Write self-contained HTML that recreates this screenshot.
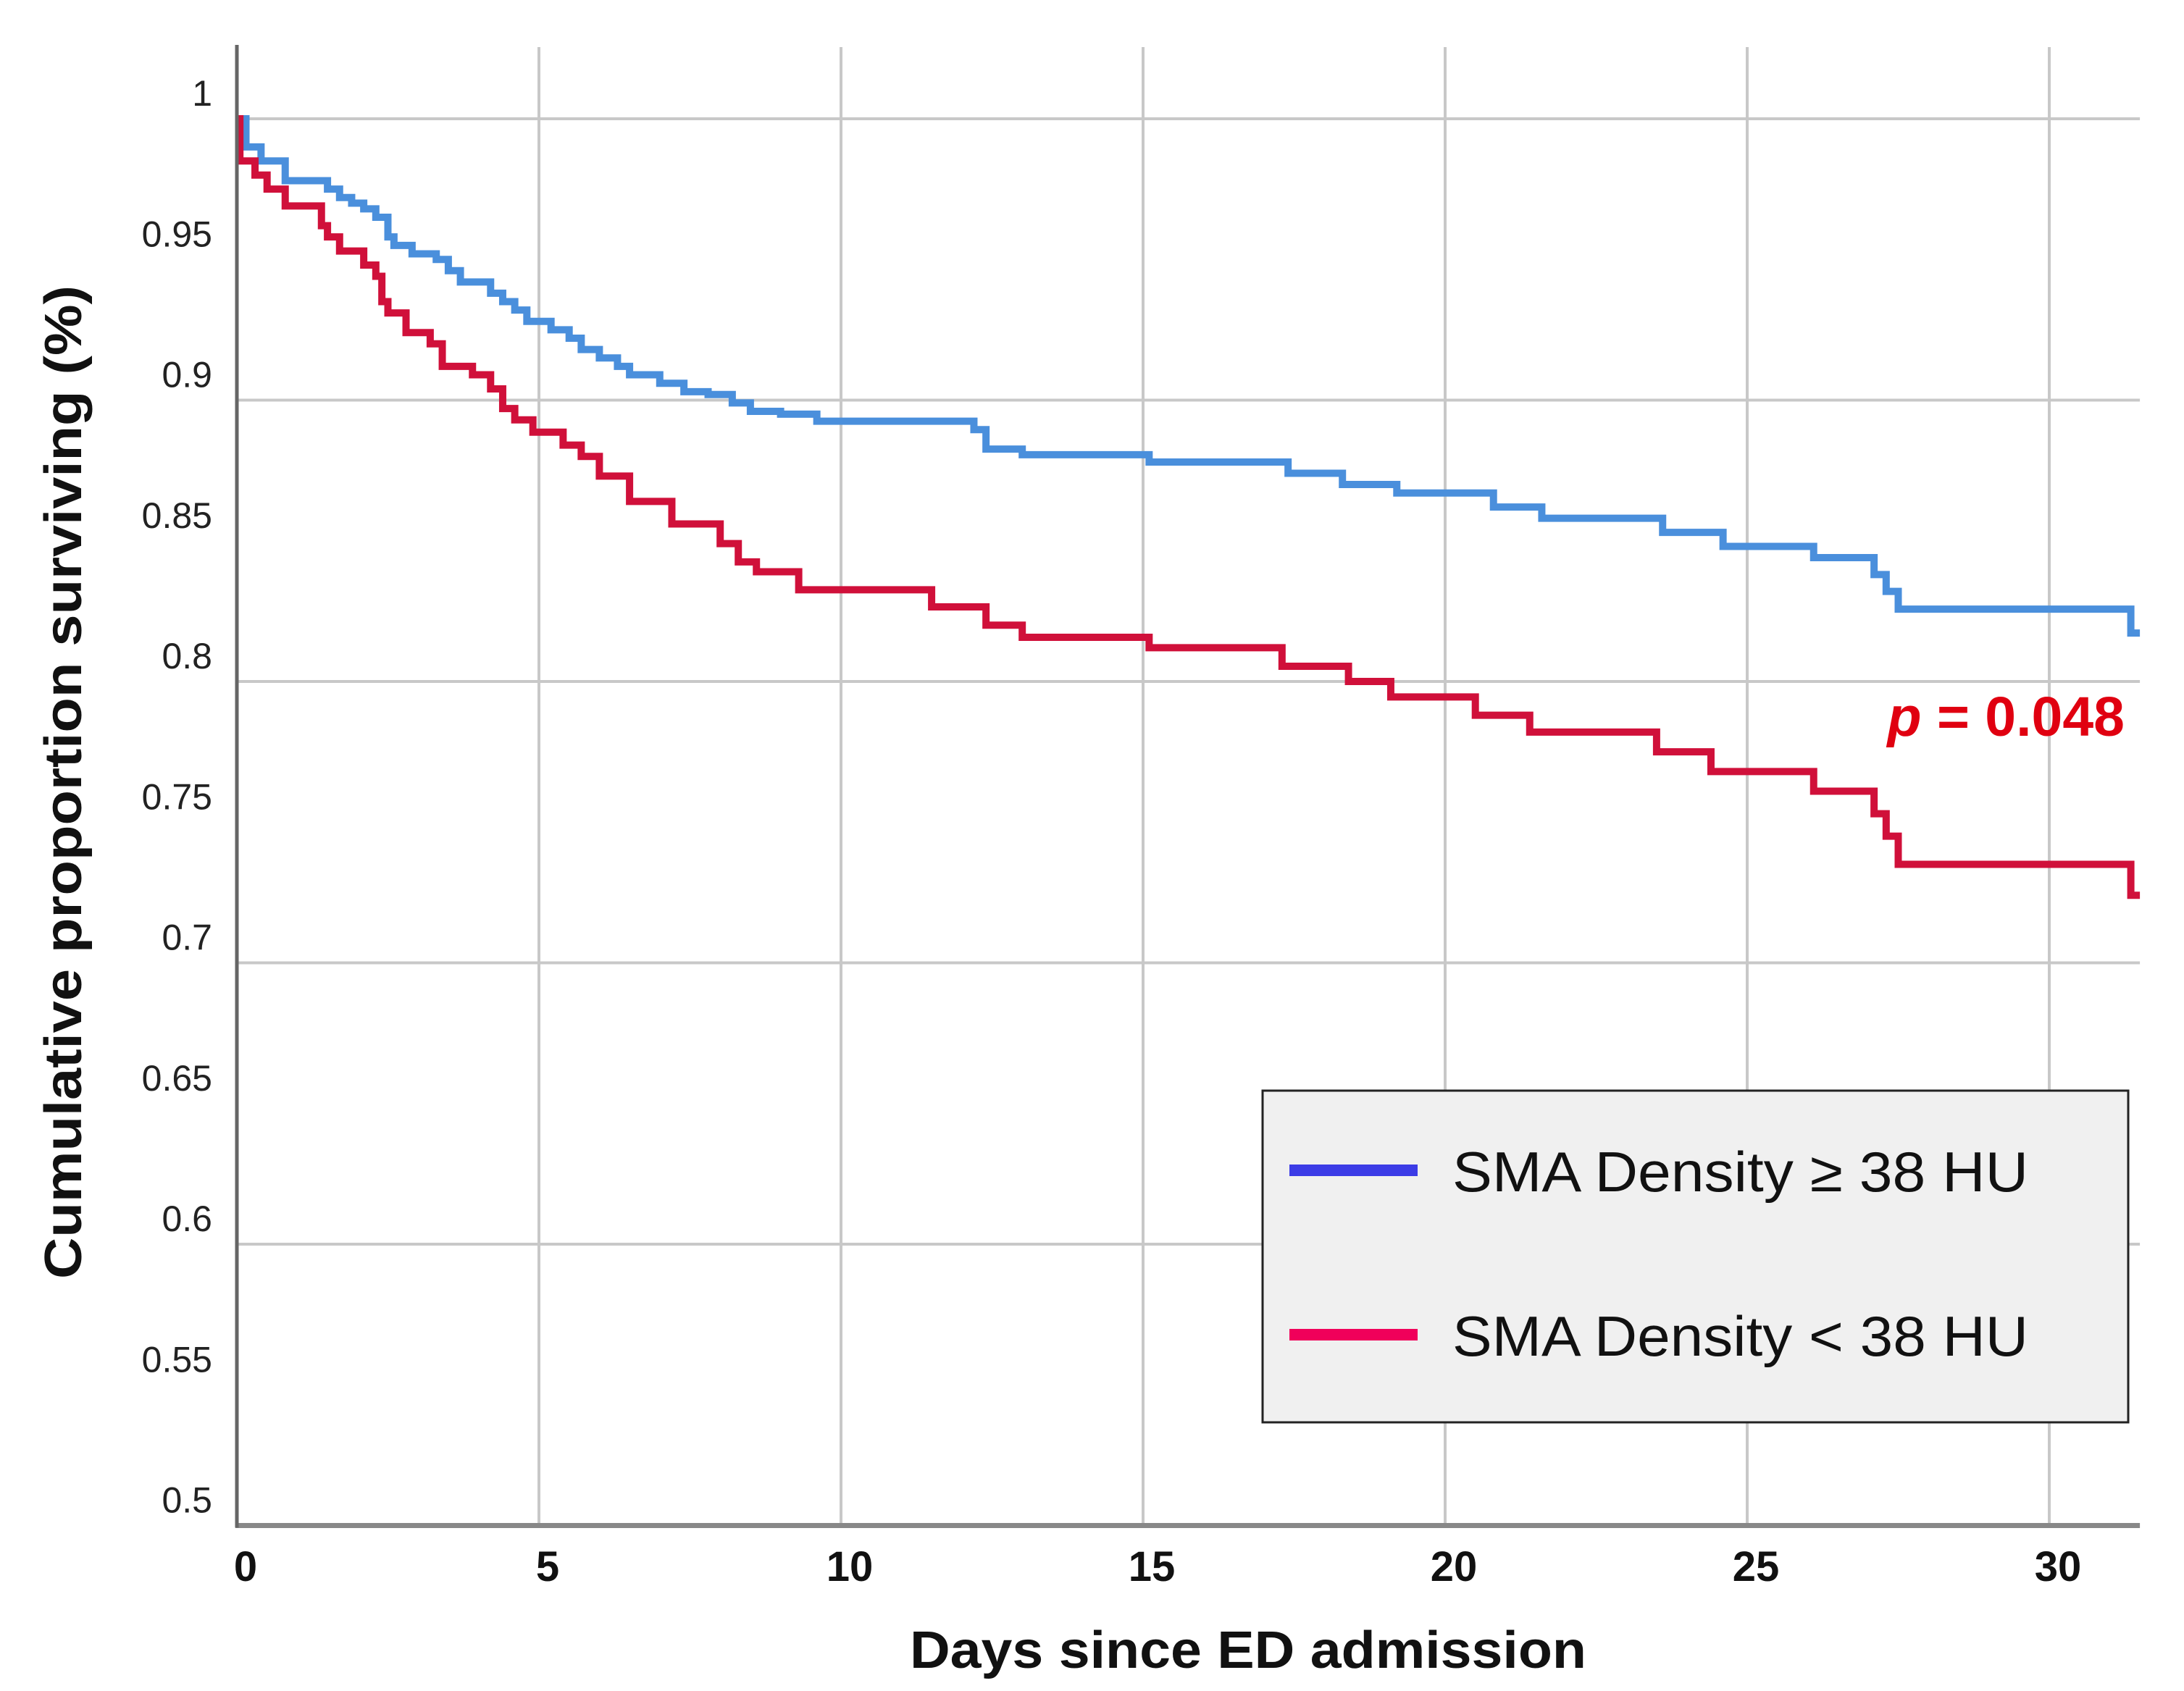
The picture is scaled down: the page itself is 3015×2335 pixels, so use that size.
<!DOCTYPE html>
<html><head><meta charset="utf-8"><style>
html,body{margin:0;padding:0;background:#fff;}
svg{display:block;}
text{font-family:"Liberation Sans",sans-serif;}
</style></head><body>
<svg id="chart" width="3015" height="2335" viewBox="0 0 3015 2335" xmlns="http://www.w3.org/2000/svg">
<g id="grid"></g>
<g id="series"></g>
<g id="axes"></g>
<text x="2933" y="1016" text-anchor="end" font-size="77" font-weight="bold" fill="#e00010"><tspan font-style="italic">p</tspan> = 0.048</text>
<g>
<rect x="1743" y="1506" width="1195" height="458" fill="#f0f0f0" stroke="#222" stroke-width="3"/>
<line x1="1780" y1="1616" x2="1957" y2="1616" stroke="#3c3ce6" stroke-width="16"/>
<text x="2005" y="1645" font-size="78" fill="#111" textLength="795" lengthAdjust="spacingAndGlyphs">SMA Density ≥ 38 HU</text>
<line x1="1780" y1="1843" x2="1957" y2="1843" stroke="#f0005a" stroke-width="16"/>
<text x="2005" y="1872" font-size="78" fill="#111" textLength="795" lengthAdjust="spacingAndGlyphs">SMA Density &lt; 38 HU</text>
</g>
<text x="1723" y="2303" text-anchor="middle" font-size="72" font-weight="bold" fill="#111" textLength="934" lengthAdjust="spacingAndGlyphs">Days since ED admission</text>
<text transform="translate(112,1080) rotate(-90)" text-anchor="middle" font-size="72" font-weight="bold" fill="#111" textLength="1372" lengthAdjust="spacingAndGlyphs">Cumulative proportion surviving (%)</text>
</svg>
<script>
const xTicks = [0,5,10,15,20,25,30];
const yTicks = [0.5,0.55,0.6,0.65,0.7,0.75,0.8,0.85,0.9,0.95,1];
const yTickLabels = ["0.5","0.55","0.6","0.65","0.7","0.75","0.8","0.85","0.9","0.95","1"];
const highTimes = [0,0.15,0.4,0.8,1.5,1.7,1.9,2.1,2.3,2.5,2.6,2.9,3.3,3.5,3.7,4.2,4.4,4.6,4.8,5.2,5.5,5.7,6.0,6.3,6.5,7.0,7.4,7.8,8.2,8.5,9.0,9.6,12.2,12.4,13.0,15.1,17.4,18.3,19.2,20.8,21.6,23.6,24.6,26.1,27.1,27.3,27.5,31.35];
const highSurv  = [1.0,0.99,0.985,0.978,0.975,0.972,0.970,0.968,0.965,0.958,0.955,0.952,0.950,0.946,0.942,0.938,0.935,0.932,0.928,0.925,0.922,0.918,0.915,0.912,0.909,0.906,0.903,0.902,0.899,0.896,0.895,0.8925,0.8895,0.8826,0.8806,0.878,0.874,0.870,0.867,0.862,0.858,0.853,0.848,0.844,0.838,0.832,0.8257,0.8172];
const lowTimes = [0,0.05,0.3,0.5,0.8,1.4,1.5,1.7,2.1,2.3,2.4,2.5,2.8,3.2,3.4,3.9,4.2,4.4,4.6,4.9,5.4,5.7,6.0,6.5,7.2,8.0,8.3,8.6,9.3,11.5,12.4,13.0,15.1,17.3,18.4,19.1,20.5,21.4,23.5,24.4,26.1,27.1,27.3,27.5,31.35];
const lowSurv  = [1.0,0.985,0.98,0.975,0.969,0.962,0.958,0.953,0.948,0.944,0.935,0.931,0.924,0.920,0.912,0.909,0.904,0.897,0.893,0.8886,0.884,0.880,0.873,0.864,0.856,0.849,0.8425,0.839,0.8326,0.8265,0.820,0.8157,0.812,0.8054,0.800,0.7945,0.788,0.782,0.775,0.768,0.761,0.753,0.745,0.735,0.724];
const xMaxDay = 31.5;

const X0 = 327, PX_PER_DAY = 83.4, Y1 = 164, PX_PER_UNIT = 3885;
const xs = d => X0 + d * PX_PER_DAY;
const ys = v => Y1 + (1 - v) * PX_PER_UNIT;
const NS = "http://www.w3.org/2000/svg";
function mk(tag, attrs, parent) {
  const e = document.createElementNS(NS, tag);
  for (const k in attrs) e.setAttribute(k, attrs[k]);
  parent.appendChild(e);
  return e;
}
const grid = document.getElementById('grid');
const axes = document.getElementById('axes');
const series = document.getElementById('series');

xTicks.forEach(t => {
  if (t === 0) return;
  const l = mk('line', {x1: xs(t), x2: xs(t), y1: 65, y2: ys(0.5), stroke: '#c8c8c8', 'stroke-width': 4}, grid);
  
  
});
yTicks.forEach(v => {
  if (Math.abs(v * 10 - Math.round(v * 10)) > 1e-6 || v === 0.5) return;
  const l = mk('line', {x1: X0, x2: xs(xMaxDay), y1: ys(v), y2: ys(v), stroke: '#c8c8c8', 'stroke-width': 4}, grid);
  
  
});

const xAxis = mk('line', {x1: X0 - 2, x2: xs(xMaxDay), y1: ys(0.5), y2: ys(0.5), stroke: '#888', 'stroke-width': 7}, axes);


const yAxis = mk('line', {x1: X0, x2: X0, y1: 62, y2: ys(0.5) + 3, stroke: '#666', 'stroke-width': 5}, axes);



xTicks.forEach(t => {
  const tx = mk('text', {x: xs(t) + 12, y: 2183, 'text-anchor': 'middle', 'font-size': 58, 'font-weight': 'bold', fill: '#111'}, axes);
  tx.textContent = String(t);
  
  
});
yTicks.forEach((v, i) => {
  const tx = mk('text', {x: 293, y: ys(v) - 18, 'text-anchor': 'end', 'font-size': 50, fill: '#222'}, axes);
  tx.textContent = yTickLabels[i];
  
  
});

function stepPath(times, surv) {
  let d = 'M' + xs(times[0]) + ' ' + ys(surv[0]);
  for (let i = 1; i < times.length; i++) {
    d += ' H' + xs(times[i]) + ' V' + ys(surv[i]);
  }
  d += ' H' + xs(xMaxDay);
  return d;
}
const hp = mk('path', {d: stepPath(highTimes, highSurv), fill: 'none', stroke: '#4a8fdc', 'stroke-width': 10, 'stroke-linejoin': 'miter'}, series);


const lp = mk('path', {d: stepPath(lowTimes, lowSurv), fill: 'none', stroke: '#d0103a', 'stroke-width': 10, 'stroke-linejoin': 'miter'}, series);


</script>
</body></html>
